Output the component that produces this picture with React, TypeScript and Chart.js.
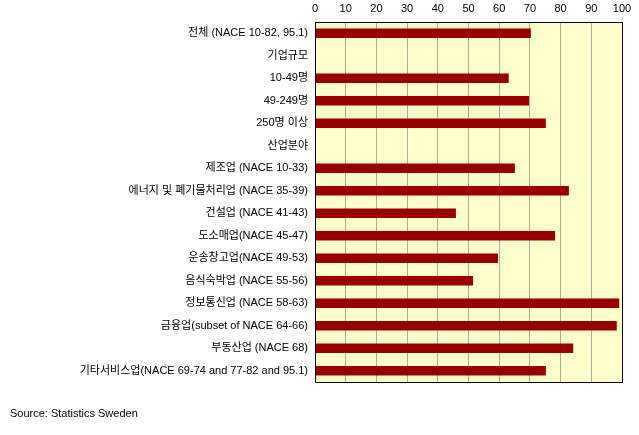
import React, { useEffect, useRef } from "react";
import { Chart, registerables } from "chart.js";

Chart.register(...registerables);

const categories = [
  "전체 (NACE 10-82, 95.1)",
  "기업규모",
  "10-49명",
  "49-249명",
  "250명 이상",
  "산업분야",
  "제조업 (NACE 10-33)",
  "에너지 및 폐기물처리업 (NACE 35-39)",
  "건설업 (NACE 41-43)",
  "도소매업(NACE 45-47)",
  "운송창고업(NACE 49-53)",
  "음식숙박업 (NACE 55-56)",
  "정보통신업 (NACE 58-63)",
  "금융업(subset of NACE 64-66)",
  "부동산업 (NACE 68)",
  "기타서비스업(NACE 69-74 and 77-82 and 95.1)",
];

const values: (number | null)[] = [
  70.3, null, 63.1, 69.7, 75.2, null, 65.1, 82.7, 45.9, 78.2, 59.6, 51.5, 99.1, 98.3, 84.1, 75.2,
];

const xTicks = { min: 0, max: 100, step: 10 };
const sourceText = "Source: Statistics Sweden";

const FONT = "'Liberation Sans', 'Noto Sans CJK KR', Arial, sans-serif";

export default function App() {
  const ref = useRef<HTMLCanvasElement | null>(null);
  useEffect(() => {
    document.body.style.margin = "0";
    const frame = {
      id: "frame",
      beforeDraw(chart: any) {
        const { ctx, chartArea: a } = chart;
        ctx.save();
        ctx.fillStyle = "#FFFFCC";
        ctx.fillRect(a.left, a.top, a.right - a.left, a.bottom - a.top);
        ctx.restore();
      },
      afterDraw(chart: any) {
        const { ctx, chartArea: a } = chart;
        ctx.save();
        ctx.strokeStyle = "#000000";
        ctx.lineWidth = 1;
        ctx.strokeRect(Math.round(a.left) + 0.5, Math.round(a.top) + 0.5, Math.round(a.right - a.left), Math.round(a.bottom - a.top));
        ctx.fillStyle = "#000000";
        ctx.font = "11px " + FONT;
        ctx.textBaseline = "middle";
        ctx.textAlign = "left";
        ctx.fillText(sourceText, 10, 414);
        ctx.restore();
      },
    };
    const chart = new Chart(ref.current!, {
      type: "bar",
      data: {
        labels: categories,
        datasets: [
          {
            data: values,
            backgroundColor: "#990000",
            borderWidth: 0,
            barPercentage: 0.42,
            categoryPercentage: 1,
          },
        ],
      },
      options: {
        indexAxis: "y",
        animation: false,
        responsive: false,
        layout: { padding: { left: 0, right: 17, top: 0, bottom: 53 } },
        plugins: { legend: { display: false }, tooltip: { enabled: false } },
        scales: {
          x: {
            position: "top",
            min: xTicks.min,
            max: xTicks.max,
            ticks: { stepSize: xTicks.step, color: "#000", font: { family: FONT, size: 11 }, padding: 6 },
            grid: { color: "#B0AC94", drawTicks: false, lineWidth: 1 },
            border: { display: false },
            afterFit(scale: any) {
              scale.height = 22;
            },
          },
          y: {
            ticks: { color: "#000", font: { family: FONT, size: 11 }, padding: 7, autoSkip: false },
            grid: { display: false, drawTicks: false },
            border: { display: false },
            afterFit(scale: any) {
              scale.width = 315;
            },
          },
        },
      },
      plugins: [frame],
    } as any);
    return () => chart.destroy();
  }, []);
  return (
    <div style={{ width: 639, height: 435 }}>
      <canvas ref={ref} width={639} height={435} style={{ display: "block" }} />
    </div>
  );
}
